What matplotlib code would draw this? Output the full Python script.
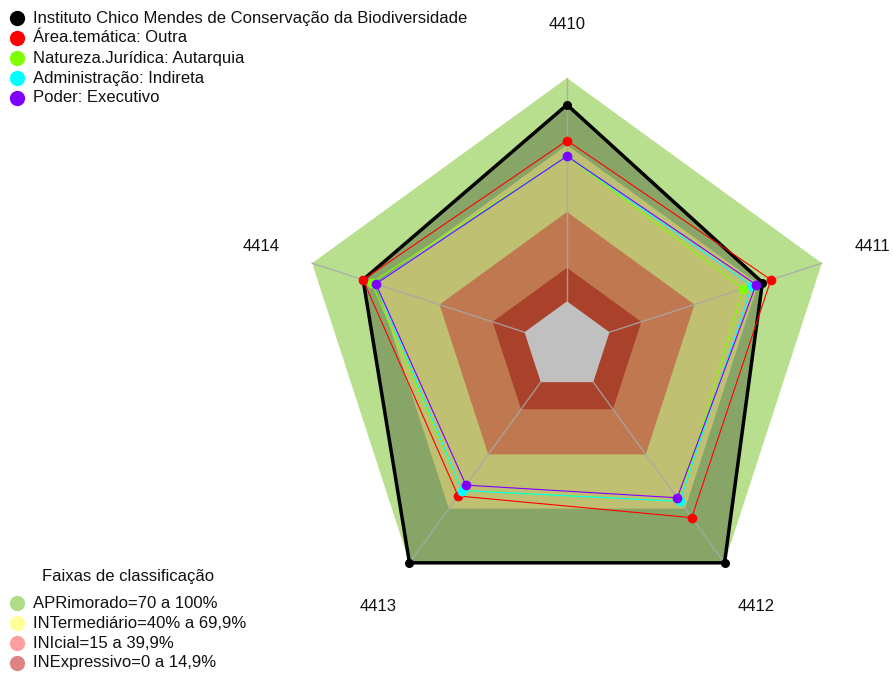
import numpy as np
import matplotlib
matplotlib.use("Agg")
import matplotlib.pyplot as plt
from matplotlib.lines import Line2D
from matplotlib.patches import Polygon

plt.rcParams['font.family'] = ['Liberation Sans', 'DejaVu Sans']

# ---- data -------------------------------------------------------------
categories = ['4410', '4411', '4412', '4413', '4414']

series_names = [
    'Instituto Chico Mendes de Conservação da Biodiversidade',
    'Área.temática: Outra',
    'Natureza.Jurídica: Autarquia',
    'Administração: Indireta',
    'Poder: Executivo',
]
icmbio = [88, 72, 100, 100, 76]
area_tematica = [72, 76, 75, 63, 76]
natureza_juridica = [65, 63, 66, 60, 72]
administracao = [65, 67, 66, 60, 70]
poder = [65, 69, 64, 57, 70]
series_values = [icmbio, area_tematica, natureza_juridica, administracao, poder]
series_colors = ['#000000', '#ff0000', '#7fff00', '#00ffff', '#7f00ff']

band_labels = ['APRimorado=70 a 100%', 'INTermediário=40% a 69,9%',
               'INIcial=15 a 39,9%', 'INExpressivo=0 a 14,9%']
band_limits = [100, 70, 40, 15]
band_fill = ['#b8df8d', '#bfc071', '#bf7850', '#a9412b']
band_marker = ['#b0dc88', '#ffff99', '#ff9e9e', '#de8383']

# ---- geometry ---------------------------------------------------------
n = len(categories)
angles = np.deg2rad(90 - 72 * np.arange(n))
HOLE = 1 / 6  # radius that corresponds to 0 %


def radius(v):
    return HOLE + (1 - HOLE) * np.asarray(v, dtype=float) / 100.0


def xy(vals):
    r = radius(vals)
    return np.column_stack([r * np.cos(angles), r * np.sin(angles)])


def ring(r):
    return np.column_stack([r * np.cos(angles), r * np.sin(angles)])


W, H = 893, 673
FS = 12
fig = plt.figure(figsize=(W / 100, H / 100), dpi=100)
ax = fig.add_axes([0, 0, 1, 1])
scale = 268.0
cx, cy = 567.0, 346.0
ax.set_xlim(-cx / scale, (W - cx) / scale)
ax.set_ylim(-(H - cy) / scale, cy / scale)
ax.set_aspect('equal')
ax.axis('off')

# outer band
ax.add_patch(Polygon(xy([band_limits[0]] * n), closed=True,
                     facecolor=band_fill[0], edgecolor='none', zorder=1))
# shaded interior of the main series
ax.add_patch(Polygon(xy(icmbio), closed=True, facecolor='black',
                     alpha=0.26, edgecolor='none', zorder=2))
# inner bands
for lim, col in zip(band_limits[1:], band_fill[1:]):
    ax.add_patch(Polygon(xy([lim] * n), closed=True, facecolor=col,
                         edgecolor='none', zorder=3))
# central hole
ax.add_patch(Polygon(ring(HOLE), closed=True, facecolor='#c0c0c0',
                     edgecolor='none', zorder=4))

# spokes
for a in angles:
    ax.plot([HOLE * np.cos(a), np.cos(a)], [HOLE * np.sin(a), np.sin(a)],
            color='#a8a8a8', lw=1.0, alpha=0.85, zorder=5)

# series
for i, (vals, col) in enumerate(zip(series_values, series_colors)):
    pts = xy(vals)
    closed = np.vstack([pts, pts[:1]])
    lw = 2.5 if i == 0 else 0.8
    ax.plot(closed[:, 0], closed[:, 1], color=col, lw=lw, zorder=6 + i,
            solid_joinstyle='miter')
    ax.plot(pts[:, 0], pts[:, 1], 'o', color=col, ms=7 if i else 6.5,
            mec='none', zorder=6 + i)

# axis labels
for a, lab in zip(angles, categories):
    ax.text(1.2 * np.cos(a), 1.2 * np.sin(a), lab, ha='center', va='center',
            fontsize=FS, color='#111111')


# ---- legends (pixel placement) ---------------------------------------
def fx(px):
    return px / W


def fy(py):
    return 1 - py / H


for k, (name, col) in enumerate(zip(series_names, series_colors)):
    y = 18 + 20 * k
    fig.add_artist(Line2D([fx(17)], [fy(y)], marker='o', color=col, ms=11,
                          mec='none', transform=fig.transFigure))
    fig.text(fx(33), fy(y), name, ha='left', va='center', fontsize=FS,
             color='#111111')

fig.text(fx(128), fy(577), 'Faixas de classificação', ha='center',
         va='center', fontsize=FS, color='#111111')
for k, (lab, col) in enumerate(zip(band_labels, band_marker)):
    y = 603 + 20 * k
    fig.add_artist(Line2D([fx(17)], [fy(y)], marker='o', color=col, ms=11,
                          mec='none', transform=fig.transFigure))
    fig.text(fx(33), fy(y), lab, ha='left', va='center', fontsize=FS,
             color='#111111')

fig.savefig('out.png', dpi=100)
